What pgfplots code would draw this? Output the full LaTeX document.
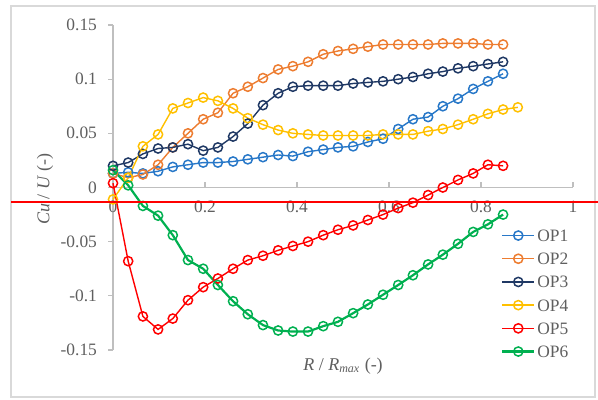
\documentclass[border=0pt]{standalone}
\usepackage{fontspec}
\setmainfont{Liberation Serif}
\usepackage{pgfplots}
\pgfplotsset{compat=1.18}

\definecolor{opA}{RGB}{40,120,200}
\definecolor{opB}{RGB}{237,125,49}
\definecolor{opC}{RGB}{31,56,100}
\definecolor{opD}{RGB}{255,192,0}
\definecolor{opE}{RGB}{255,0,0}
\definecolor{opF}{RGB}{0,176,80}
\definecolor{txtgray}{RGB}{95,95,95}
\definecolor{axgray}{RGB}{191,191,191}
\definecolor{boxgray}{RGB}{217,217,217}

\pgfplotsset{
  opline/.style={line width=0.7pt, mark=o, mark size=2.3pt, mark options={solid, line width=0.75pt}},
}

\begin{document}
\begin{tikzpicture}
\useasboundingbox (0,0) rectangle (299pt,200pt);
\draw[boxgray, line width=0.8pt] (5.5pt,1.5pt) rectangle (297.5pt,197pt);

\begin{axis}[
  at={(56.5pt,25pt)}, anchor=south west,
  scale only axis, width=230pt, height=162.5pt,
  xmin=0, xmax=1, ymin=-0.15, ymax=0.15,
  axis x line*=middle, axis y line*=left,
  axis line style={axgray, line width=0.6pt},
  hide obscured x ticks=false, hide obscured y ticks=false,
  clip=false,
  xtick={0,0.2,0.4,0.6,0.8,1},
  xticklabels={0,0.2,0.4,0.6,0.8,1},
  ytick={-0.15,-0.1,-0.05,0,0.05,0.1,0.15},
  yticklabels={-0.15,-0.1,-0.05,0,0.05,0.1,0.15},
  tick align=inside, major tick length=2.5pt,
  tick style={axgray, line width=0.6pt},
  y tick style={xshift=-2.5pt},
  tick label style={font=\fontsize{8.7}{10}\selectfont, text=txtgray},
  yticklabel style={xshift=-4.5pt},
  xticklabel style={yshift=-3pt},
  xlabel={\textit{R} / \textit{R}\textsubscript{\textit{max}} (-)},
  ylabel={\textit{Cu} / \textit{U} (-)},
  label style={font=\fontsize{9}{10}\selectfont, text=txtgray},
  xlabel style={at={(axis description cs:0.5,-0.049)}, anchor=center},
  ylabel style={at={(axis description cs:-0.148,0.495)}, anchor=center, rotate=0},
  legend style={at={(axis description cs:0.843,0.378)}, anchor=north west,
    draw=none, fill=none, font=\fontsize{8.7}{10}\selectfont, text=txtgray,
    row sep=3.6pt, inner sep=0pt,
    nodes={inner sep=1pt, text height=6pt, text depth=0pt}},
  legend cell align=left,
  legend image code/.code={\draw[mark repeat=2,mark phase=2,#1] plot coordinates {(0pt,0pt) (8pt,0pt) (16pt,0pt)};},
]

\addplot[opA, opline] table {
x y
0.000 0.013
0.033 0.014
0.065 0.013
0.098 0.015
0.130 0.019
0.163 0.021
0.196 0.023
0.228 0.023
0.261 0.024
0.293 0.026
0.326 0.028
0.359 0.030
0.391 0.029
0.424 0.033
0.457 0.035
0.489 0.037
0.522 0.038
0.554 0.042
0.587 0.045
0.620 0.054
0.652 0.063
0.685 0.065
0.717 0.075
0.750 0.082
0.783 0.091
0.815 0.098
0.848 0.105
};
\addlegendentry{OP1}

\addplot[opB, opline] table {
x y
0.000 0.013
0.033 0.009
0.065 0.012
0.098 0.021
0.130 0.037
0.163 0.050
0.196 0.063
0.228 0.069
0.261 0.087
0.293 0.093
0.326 0.101
0.359 0.109
0.391 0.112
0.424 0.116
0.457 0.123
0.489 0.126
0.522 0.128
0.554 0.130
0.587 0.132
0.620 0.132
0.652 0.132
0.685 0.132
0.717 0.133
0.750 0.133
0.783 0.133
0.815 0.132
0.848 0.132
};
\addlegendentry{OP2}

\addplot[opC, opline] table {
x y
0.000 0.020
0.033 0.023
0.065 0.031
0.098 0.036
0.130 0.037
0.163 0.040
0.196 0.034
0.228 0.037
0.261 0.047
0.293 0.059
0.326 0.076
0.359 0.087
0.391 0.093
0.424 0.094
0.457 0.094
0.489 0.094
0.522 0.096
0.554 0.097
0.587 0.098
0.620 0.100
0.652 0.102
0.685 0.105
0.717 0.107
0.750 0.110
0.783 0.112
0.815 0.114
0.848 0.116
};
\addlegendentry{OP3}

\addplot[opD, opline] table {
x y
0.000 -0.011
0.033 0.009
0.065 0.038
0.098 0.049
0.130 0.073
0.163 0.078
0.196 0.083
0.228 0.080
0.261 0.073
0.293 0.064
0.326 0.058
0.359 0.053
0.391 0.050
0.424 0.049
0.457 0.048
0.489 0.048
0.522 0.048
0.554 0.048
0.587 0.049
0.620 0.049
0.652 0.049
0.685 0.052
0.717 0.054
0.750 0.058
0.783 0.063
0.815 0.068
0.848 0.072
0.880 0.074
};
\addlegendentry{OP4}

\addplot[opE, opline] table {
x y
0.000 0.004
0.033 -0.068
0.065 -0.119
0.098 -0.131
0.130 -0.121
0.163 -0.104
0.196 -0.092
0.228 -0.084
0.261 -0.075
0.293 -0.067
0.326 -0.063
0.359 -0.058
0.391 -0.054
0.424 -0.050
0.457 -0.044
0.489 -0.039
0.522 -0.035
0.554 -0.030
0.587 -0.025
0.620 -0.019
0.652 -0.014
0.685 -0.007
0.717 0.000
0.750 0.007
0.783 0.013
0.815 0.021
0.848 0.020
};
\addlegendentry{OP5}

\addplot[opF, opline, line width=1.1pt] table {
x y
0.000 0.016
0.033 0.002
0.065 -0.017
0.098 -0.026
0.130 -0.044
0.163 -0.067
0.196 -0.075
0.228 -0.090
0.261 -0.105
0.293 -0.117
0.326 -0.127
0.359 -0.132
0.391 -0.133
0.424 -0.133
0.457 -0.128
0.489 -0.124
0.522 -0.116
0.554 -0.108
0.587 -0.099
0.620 -0.090
0.652 -0.081
0.685 -0.071
0.717 -0.062
0.750 -0.052
0.783 -0.041
0.815 -0.034
0.848 -0.025
};
\addlegendentry{OP6}

\end{axis}

\draw[red, line width=1pt] (5.5pt,99pt) -- (299pt,99pt);
\end{tikzpicture}
\end{document}
